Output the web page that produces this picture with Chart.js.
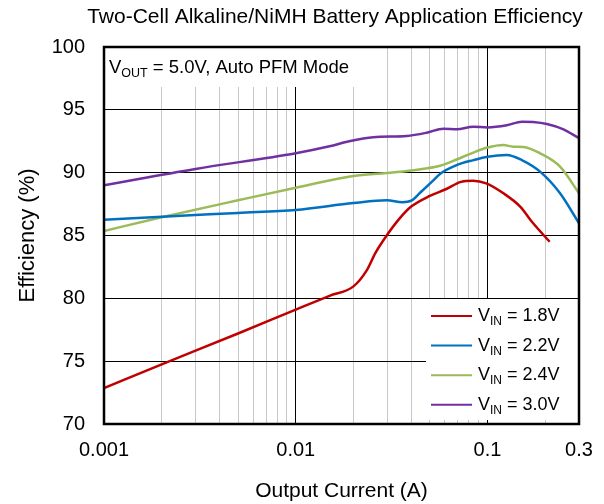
<!DOCTYPE html>
<html>
<head>
<meta charset="utf-8">
<script src="https://cdn.jsdelivr.net/npm/chart.js@4.4.0/dist/chart.umd.min.js"></script>
<style>
  html, body { margin: 0; padding: 0; background: #fff; }
  #wrap { width: 604px; height: 504px; }
</style>
</head>
<body>
<div id="wrap"><canvas id="effChart" width="604" height="504"></canvas></div>
<script>
// ================== DATOS ==================
const iVin18 = [0.001, 0.002, 0.005, 0.01, 0.015, 0.02, 0.0234, 0.026, 0.0298, 0.035, 0.04, 0.05, 0.061, 0.072, 0.084, 0.0985, 0.121, 0.148, 0.173, 0.211];
const effVin18 = [72.85, 74.75, 77.2, 79.1, 80.2, 80.95, 82.2, 83.6, 85.0, 86.4, 87.3, 88.15, 88.7, 89.25, 89.36, 89.15, 88.36, 87.3, 85.97, 84.5];

const iVin22 = [0.001, 0.002, 0.005, 0.01, 0.02, 0.0298, 0.036, 0.04, 0.0445, 0.052, 0.0565, 0.069, 0.0844, 0.1, 0.126, 0.151, 0.188, 0.239, 0.3];
const effVin22 = [86.25, 86.5, 86.8, 87.03, 87.58, 87.8, 87.65, 87.77, 88.4, 89.36, 89.9, 90.6, 91.0, 91.27, 91.41, 91.0, 90.08, 88.36, 85.97];

const iVin24 = [0.001, 0.002, 0.005, 0.01, 0.02, 0.0298, 0.041, 0.0565, 0.069, 0.0844, 0.1, 0.121, 0.136, 0.154, 0.188, 0.239, 0.3];
const effVin24 = [85.36, 86.45, 87.8, 88.8, 89.74, 89.97, 90.2, 90.55, 91.05, 91.6, 92.0, 92.2, 92.07, 92.05, 91.54, 90.48, 88.36];

const iVin30 = [0.001, 0.003, 0.01, 0.015, 0.019, 0.0254, 0.0379, 0.0482, 0.0589, 0.0692, 0.0844, 0.1, 0.126, 0.151, 0.173, 0.204, 0.249, 0.3];
const effVin30 = [89.0, 90.3, 91.55, 92.1, 92.5, 92.82, 92.92, 93.18, 93.5, 93.45, 93.66, 93.6, 93.77, 94.06, 94.03, 93.87, 93.45, 92.74];

const seriesVolts = ['1.8V', '2.2V', '2.4V', '3.0V'];
const seriesColors = ['#C00000', '#0070C0', '#9BBB59', '#7030A0'];

const xGridValues = [0.001, 0.002, 0.003, 0.004, 0.005, 0.006, 0.007, 0.008, 0.009,
                     0.01, 0.02, 0.03, 0.04, 0.05, 0.06, 0.07, 0.08, 0.09,
                     0.1, 0.2, 0.3];
const xMajorValues = [0.001, 0.01, 0.1];
const xTickLabels = [0.001, 0.01, 0.1, 0.3];

const FONT = '"Liberation Sans", Arial, sans-serif';

const toPoints = (xs, ys) => xs.map((x, k) => ({ x: x, y: ys[k] }));
const seriesPoints = [
    toPoints(iVin18, effVin18),
    toPoints(iVin22, effVin22),
    toPoints(iVin24, effVin24),
    toPoints(iVin30, effVin30)
];

// texto con subindice: V + sub + resto
function drawSubText(ctx, x, y, main, sub, rest, size, subSize) {
    ctx.font = size + 'px ' + FONT;
    ctx.fillText(main, x, y);
    x += ctx.measureText(main).width;
    ctx.font = subSize + 'px ' + FONT;
    ctx.fillText(sub, x, y + size * 0.22);
    x += ctx.measureText(sub).width;
    ctx.font = size + 'px ' + FONT;
    ctx.fillText(rest, x, y);
}

// ================== DECORACION ==================
const decorPlugin = {
    id: 'decor',
    beforeDatasetsDraw(chart) {
        const { ctx, chartArea: a } = chart;
        ctx.save();
        ctx.fillStyle = '#fff';
        // caja de la nota (tapa la rejilla)
        ctx.fillRect(a.left, a.top, 251, 40);
        // caja de la leyenda
        ctx.fillRect(a.right - 153, a.bottom - 125, 153, 121);
        ctx.restore();
    },
    afterDraw(chart) {
        const { ctx, chartArea: a } = chart;
        ctx.save();

        // marco
        ctx.strokeStyle = '#000';
        ctx.lineWidth = 2.5;
        ctx.strokeRect(a.left, a.top, a.right - a.left, a.bottom - a.top);

        // titulo
        ctx.fillStyle = '#000';
        ctx.textAlign = 'center';
        ctx.textBaseline = 'middle';
        ctx.font = '21px ' + FONT;
        ctx.fillText('Two-Cell Alkaline/NiMH Battery Application Efficiency', 335, 17);

        // nota
        ctx.textAlign = 'left';
        ctx.textBaseline = 'alphabetic';
        drawSubText(ctx, a.left + 5, a.top + 26, 'V', 'OUT', ' = 5.0V, Auto PFM Mode', 18.5, 12.5);

        // leyenda
        const legTop = a.bottom - 108;
        seriesVolts.forEach((v, k) => {
            const y = legTop + k * 29.6;
            ctx.strokeStyle = seriesColors[k];
            ctx.lineWidth = 2;
            ctx.beginPath();
            ctx.moveTo(a.right - 148, y);
            ctx.lineTo(a.right - 107, y);
            ctx.stroke();
            ctx.fillStyle = '#000';
            drawSubText(ctx, a.right - 101, y + 5, 'V', 'IN', ' = ' + v, 18, 12);
        });
        ctx.restore();
    }
};

// ================== GRAFICA ==================
const ctx = document.getElementById('effChart').getContext('2d');
const effChart = new Chart(ctx, {
    type: 'line',
    data: {
        datasets: seriesPoints.map((pts, k) => ({
            label: 'VIN = ' + seriesVolts[k],
            data: pts,
            borderColor: seriesColors[k],
            backgroundColor: seriesColors[k],
            borderWidth: 2.5,
            pointRadius: 0,
            fill: false,
            cubicInterpolationMode: 'monotone'
        }))
    },
    options: {
        responsive: false,
        animation: false,
        layout: { padding: { top: 47, right: 25, left: 0, bottom: 0 } },
        plugins: {
            legend: { display: false },
            title: { display: false },
            tooltip: { enabled: false }
        },
        scales: {
            x: {
                type: 'logarithmic',
                min: 0.001,
                max: 0.3,
                afterBuildTicks: scale => {
                    scale.ticks = xGridValues.map(value => ({ value }));
                },
                afterFit: scale => {
                    scale.height = 80;
                    scale.paddingLeft = 0;
                    scale.paddingRight = 0;
                },
                ticks: {
                    autoSkip: false,
                    maxRotation: 0,
                    padding: 14,
                    color: '#000',
                    font: { family: FONT, size: 20 },
                    callback: value => xTickLabels.includes(value) ? String(value) : ''
                },
                grid: {
                    drawTicks: false,
                    lineWidth: 1,
                    color: c => (c.tick && xMajorValues.includes(c.tick.value)) ? '#000' : '#c8c8c8'
                },
                border: { display: false },
                title: {
                    display: true,
                    text: 'Output Current (A)',
                    color: '#000',
                    font: { family: FONT, size: 21 },
                    padding: { top: 0, bottom: 0 }
                }
            },
            y: {
                min: 70,
                max: 100,
                afterFit: scale => {
                    scale.width = 104;
                    scale.paddingTop = 0;
                    scale.paddingBottom = 0;
                },
                ticks: {
                    stepSize: 5,
                    padding: 19,
                    color: '#000',
                    font: { family: FONT, size: 20 }
                },
                grid: {
                    drawTicks: false,
                    lineWidth: 1,
                    color: '#000'
                },
                border: { display: false },
                title: {
                    display: true,
                    text: 'Efficiency (%)',
                    color: '#000',
                    font: { family: FONT, size: 22 },
                    padding: { top: 15, bottom: 0 }
                }
            }
        }
    },
    plugins: [decorPlugin]
});
</script>
</body>
</html>
